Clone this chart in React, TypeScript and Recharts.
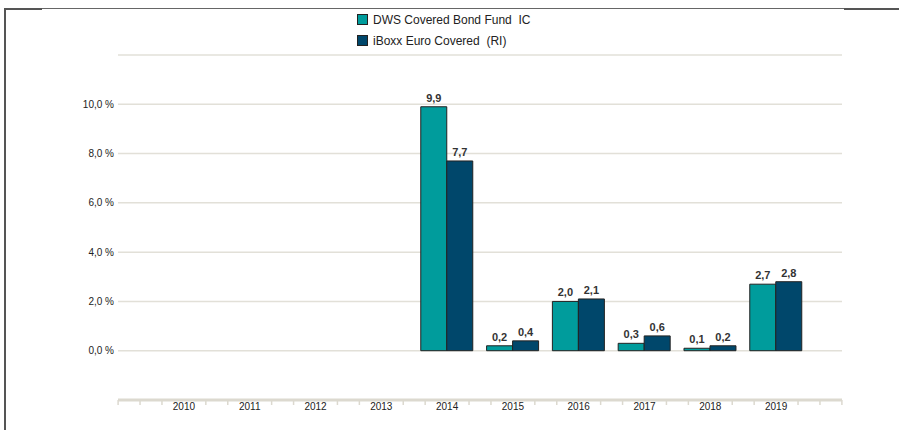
import { BarChart, Bar, XAxis, YAxis, CartesianGrid, LabelList } from "recharts";

const years = ["2010", "2011", "2012", "2013", "2014", "2015", "2016", "2017", "2018", "2019"];
const dwsFund = [null, null, null, null, 9.9, 0.2, 2.0, 0.3, 0.1, 2.7];
const iboxx = [null, null, null, null, 7.7, 0.4, 2.1, 0.6, 0.2, 2.8];
const yTicks = [0, 2, 4, 6, 8, 10, 12];
const seriesNames = ["DWS Covered Bond Fund  IC", "iBoxx Euro Covered  (RI)"];

const data = years.map((year, i) => ({ year, dws: dwsFund[i], iboxx: iboxx[i] }));

const TEAL = "#009c9c";
const NAVY = "#00476b";
const FONT = "'Liberation Sans', Arial, sans-serif";
const AXIS_COLOR = "#dcd9cf";

const fmtLabel = (v: any) => (v == null ? "" : Number(v).toFixed(1).replace(".", ","));

function LegendBox() {
  const colors = [TEAL, NAVY];
  return (
    <div style={{ position: "absolute", left: 357, top: 9, fontFamily: FONT, fontSize: 12, color: "#222" }}>
      {seriesNames.map((name, i) => (
        <div key={name} style={{ display: "flex", alignItems: "center", height: 21, whiteSpace: "pre" }}>
          <span
            style={{
              display: "inline-block",
              width: 9,
              height: 9,
              background: colors[i],
              border: "1px solid #222",
              marginRight: 5,
            }}
          />
          {name}
        </div>
      ))}
    </div>
  );
}

// year label plus the small minor tick marks (band split in three, extra marks in the end padding)
function YearTick(props: any) {
  const { x, y, payload, index } = props;
  const band = payload.offset * 2;
  let offsets = [-band / 3, band / 3];
  if (index === 0) offsets = [-band, (-2 * band) / 3, ...offsets];
  if (index === years.length - 1) offsets = [...offsets, (2 * band) / 3, band];
  return (
    <g>
      {offsets.map((o, i) => (
        <line key={i} x1={x + o} x2={x + o} y1={y} y2={y + 5} stroke={AXIS_COLOR} strokeWidth={1.5} />
      ))}
      <text x={x} y={y + 3} dy="0.71em" textAnchor="middle" fontSize={10} fill="#222" fontFamily={FONT}>
        {payload.value}
      </text>
    </g>
  );
}

export default function App() {
  return (
    <div style={{ position: "absolute", left: 0, top: 0, width: 899, height: 430, background: "#fff", overflow: "hidden" }}>
      {/* frame */}
      <div style={{ position: "absolute", left: 4, top: 8, width: 2, height: 430, background: "#555" }} />
      <div style={{ position: "absolute", left: 4, top: 8, width: 841, height: 1, background: "#666" }} />
      <div style={{ position: "absolute", left: 4, top: 8, width: 38, height: 2, background: "#555" }} />
      <div style={{ position: "absolute", left: 844, top: 8, width: 55, height: 2, background: "#555" }} />
      <LegendBox />
      <BarChart
        width={899}
        height={430}
        data={data}
        margin={{ top: 55, right: 57, bottom: 0, left: 0 }}
        barCategoryGap="10%"
        barGap={0}
        style={{ fontFamily: FONT, position: "absolute", left: 0, top: 0 }}
      >
        <CartesianGrid vertical={false} stroke="#e2e0d8" strokeWidth={1.5} />
        <XAxis
          dataKey="year"
          height={30}
          padding={{ left: 33, right: 33 }}
          axisLine={{ stroke: AXIS_COLOR, strokeWidth: 3 }}
          tickLine={false}
          tickSize={0}
          tickMargin={0}
          interval={0}
          tick={<YearTick />}
        />
        <YAxis
          domain={[-2, 12]}
          ticks={yTicks}
          width={118}
          axisLine={false}
          tickLine={false}
          tickSize={0}
          tickMargin={4}
          tick={{ fontSize: 10, fill: "#222" }}
          tickFormatter={(v: number) => (v >= 12 ? "" : v.toFixed(1).replace(".", ",") + " %")}
        />
        <Bar dataKey="dws" name={seriesNames[0]} fill={TEAL} stroke="#222" strokeWidth={1} isAnimationActive={false}>
          <LabelList dataKey="dws" position="top" offset={5} formatter={fmtLabel} style={{ fontSize: 11, fontWeight: "bold", fill: "#333" }} />
        </Bar>
        <Bar dataKey="iboxx" name={seriesNames[1]} fill={NAVY} stroke="#222" strokeWidth={1} isAnimationActive={false}>
          <LabelList dataKey="iboxx" position="top" offset={5} formatter={fmtLabel} style={{ fontSize: 11, fontWeight: "bold", fill: "#333" }} />
        </Bar>
      </BarChart>
    </div>
  );
}
